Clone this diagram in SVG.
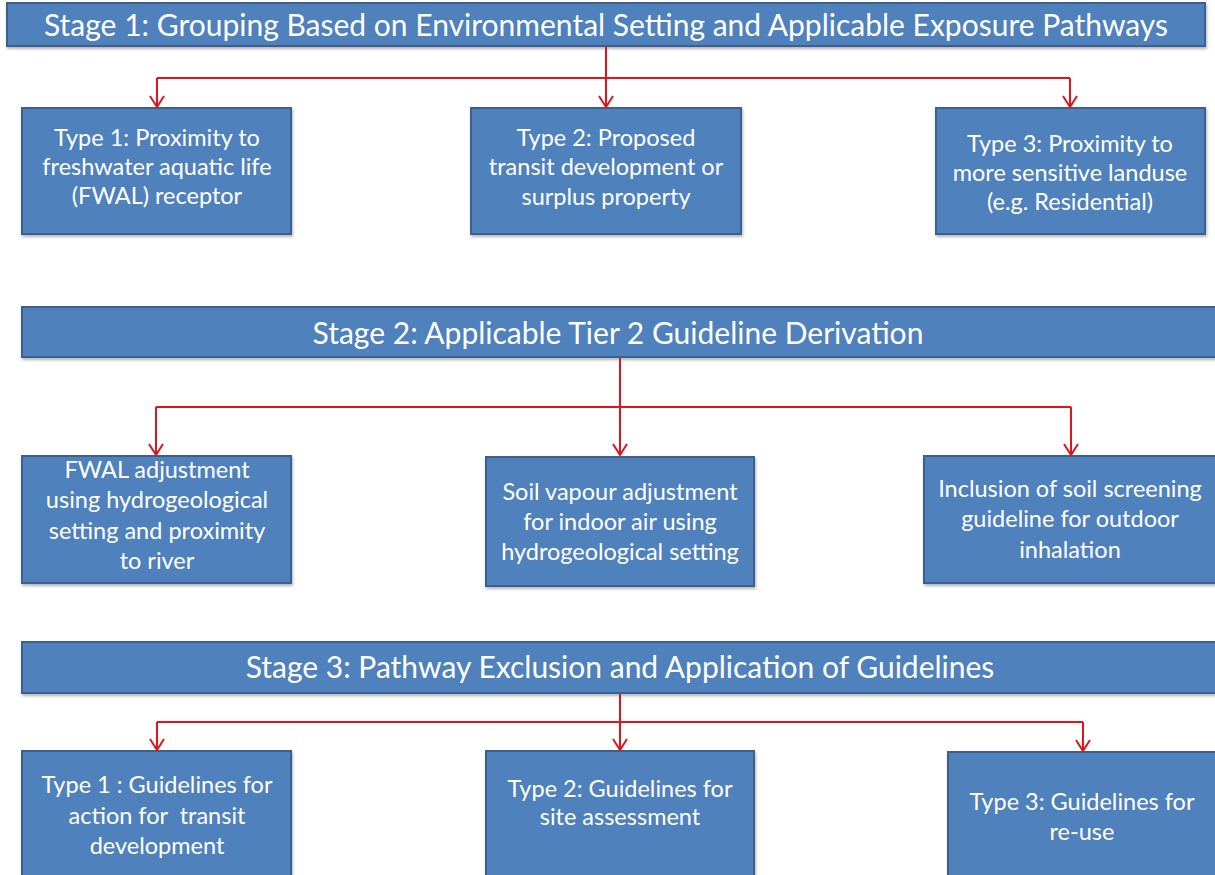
<svg xmlns="http://www.w3.org/2000/svg" width="1215" height="875" viewBox="0 0 1215 875">
<defs>
<style>
.bar{fill:#4F81BD;stroke:#3A6190;stroke-width:2}
.box{fill:#4F81BD;stroke:#3A6190;stroke-width:2}
.t{font-family:Lato,"Open Sans","Liberation Sans",sans-serif;fill:#fff;text-anchor:middle}
.st{font-size:30px}
.bt{font-size:23.5px}
.c{fill:none;stroke:#E0141B;stroke-width:2}
</style>
<marker id="ah" markerWidth="16" markerHeight="14" viewBox="0 0 16 14" refX="8" refY="13" orient="0" markerUnits="userSpaceOnUse">
<path d="M1 2 L8 13 L15 2" fill="none" stroke="#E0141B" stroke-width="2"/>
</marker>
<filter id="sh" x="-5%" y="-5%" width="110%" height="115%">
<feDropShadow dx="1" dy="2" stdDeviation="1.5" flood-color="#000" flood-opacity="0.3"/>
</filter>
</defs>
<rect width="1215" height="875" fill="#fff"/>

<g id="stage1">
<rect class="bar" x="7" y="3" width="1198" height="43" filter="url(#sh)"/>
<text class="t st" x="606" y="36">Stage 1: Grouping Based on Environmental Setting and Applicable Exposure Pathways</text>
</g>
<g id="s1type1">
<rect class="box" x="22" y="108" width="269" height="126" filter="url(#sh)"/>
<text class="t bt" x="157" y="146">Type 1: Proximity to</text>
<text class="t bt" x="157" y="175">freshwater aquatic life</text>
<text class="t bt" x="157" y="204">(FWAL) receptor</text>
</g>
<g id="s1type2">
<rect class="box" x="471" y="108" width="270" height="126" filter="url(#sh)"/>
<text class="t bt" x="606" y="146">Type 2: Proposed</text>
<text class="t bt" x="606" y="175">transit development or</text>
<text class="t bt" x="606" y="205">surplus property</text>
</g>
<g id="s1type3">
<rect class="box" x="936" y="108" width="269" height="126" filter="url(#sh)"/>
<text class="t bt" x="1070" y="152">Type 3: Proximity to</text>
<text class="t bt" x="1070" y="181">more sensitive landuse</text>
<text class="t bt" x="1070" y="210">(e.g. Residential)</text>
</g>

<g id="stage2">
<rect class="bar" x="22" y="307" width="1200" height="50" filter="url(#sh)"/>
<text class="t st" x="618" y="344">Stage 2: Applicable Tier 2 Guideline Derivation</text>
</g>
<g id="s2a">
<rect class="box" x="22" y="456" width="269" height="127" filter="url(#sh)"/>
<text class="t bt" x="157" y="478">FWAL adjustment</text>
<text class="t bt" x="157" y="508">using hydrogeological</text>
<text class="t bt" x="157" y="539">setting and proximity</text>
<text class="t bt" x="157" y="569">to river</text>
</g>
<g id="s2b">
<rect class="box" x="486" y="457" width="268" height="129" filter="url(#sh)"/>
<text class="t bt" x="620" y="500">Soil vapour adjustment</text>
<text class="t bt" x="620" y="530">for indoor air using</text>
<text class="t bt" x="620" y="560">hydrogeological setting</text>
</g>
<g id="s2c">
<rect class="box" x="924" y="456" width="300" height="127" filter="url(#sh)"/>
<text class="t bt" x="1070" y="497">Inclusion of soil screening</text>
<text class="t bt" x="1070" y="527">guideline for outdoor</text>
<text class="t bt" x="1070" y="558">inhalation</text>
</g>

<g id="stage3">
<rect class="bar" x="22" y="642" width="1200" height="51" filter="url(#sh)"/>
<text class="t st" x="620" y="678">Stage 3: Pathway Exclusion and Application of Guidelines</text>
</g>
<g id="s3type1">
<rect class="box" x="22" y="751" width="269" height="130" filter="url(#sh)"/>
<text class="t bt" x="157" y="793">Type 1 : Guidelines for</text>
<text class="t bt" x="157" y="824" xml:space="preserve">action for  transit</text>
<text class="t bt" x="157" y="854">development</text>
</g>
<g id="s3type2">
<rect class="box" x="486" y="751" width="268" height="130" filter="url(#sh)"/>
<text class="t bt" x="620" y="797">Type 2: Guidelines for</text>
<text class="t bt" x="620" y="825">site assessment</text>
</g>
<g id="s3type3">
<rect class="box" x="948" y="752" width="276" height="130" filter="url(#sh)"/>
<text class="t bt" x="1082" y="810">Type 3: Guidelines for</text>
<text class="t bt" x="1082" y="840">re-use</text>
</g>

<g id="connectors">
<path class="c" d="M606 47 V107" marker-end="url(#ah)"/>
<path class="c" d="M157 78 H1070"/>
<path class="c" d="M157 78 V107" marker-end="url(#ah)"/>
<path class="c" d="M1070 78 V107" marker-end="url(#ah)"/>

<path class="c" d="M620 358 V455" marker-end="url(#ah)"/>
<path class="c" d="M156 407 H1071"/>
<path class="c" d="M156 407 V455" marker-end="url(#ah)"/>
<path class="c" d="M1071 407 V455" marker-end="url(#ah)"/>

<path class="c" d="M620 694 V750" marker-end="url(#ah)"/>
<path class="c" d="M157 722 H1083"/>
<path class="c" d="M157 722 V750" marker-end="url(#ah)"/>
<path class="c" d="M1083 722 V751" marker-end="url(#ah)"/>
</g>
</svg>
